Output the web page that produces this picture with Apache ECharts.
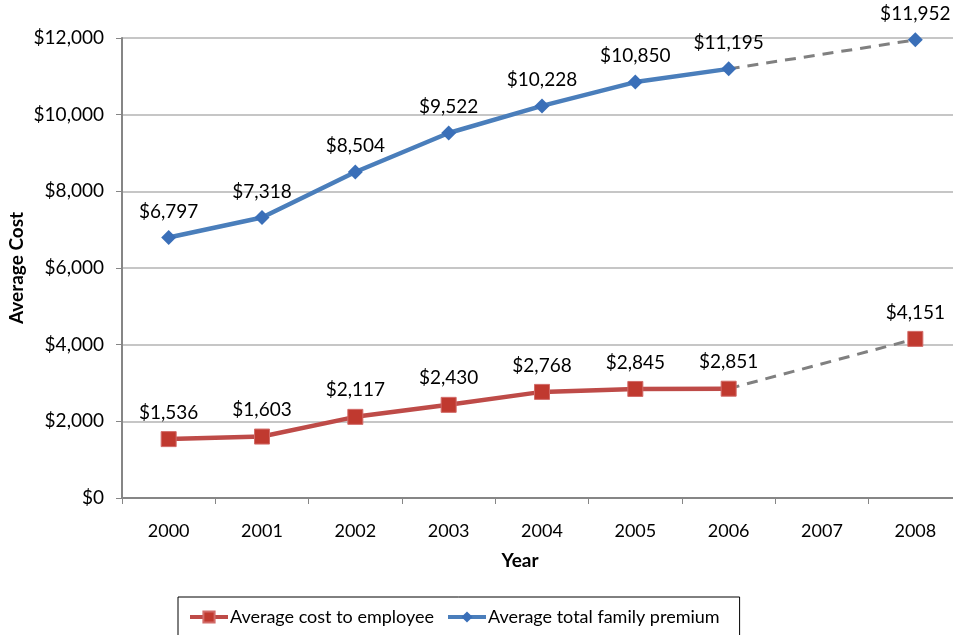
<!DOCTYPE html>
<html><head><meta charset="utf-8">
<script src="https://cdn.jsdelivr.net/npm/echarts@6/dist/echarts.min.js"></script>
<style>html,body{margin:0;padding:0;background:#fff}#c{width:953px;height:635px}</style>
</head><body><div id="c"></div>
<script>
const years = ['2000','2001','2002','2003','2004','2005','2006','2007','2008'];
const employeeCost = [1536, 1603, 2117, 2430, 2768, 2845, 2851, null, 4151];
const familyPremium = [6797, 7318, 8504, 9522, 10228, 10850, 11195, null, 11952];
const employeeProjection = [null, null, null, null, null, null, 2851, null, 4151];
const premiumProjection = [null, null, null, null, null, null, 11195, null, 11952];
const yTicks = [0, 2000, 4000, 6000, 8000, 10000, 12000];

const FONT = 'Lato';
const fmt = v => '$' + Number(v).toLocaleString('en-US');
const toData = a => a.map(v => v === null ? '-' : v);

const chart = echarts.init(document.getElementById('c'));
chart.setOption({
  animation: false,
  textStyle: {fontFamily: FONT},
  grid: {left: 122, top: 38, width: 840, height: 460, containLabel: false, outerBoundsMode: 'none'},
  graphic: [
    {type: 'text', x: 17, y: 268, rotation: Math.PI / 2,
     style: {text: 'Average Cost', fontFamily: FONT, fontSize: 19, fontWeight: 'bold', fill: '#000', align: 'center', verticalAlign: 'middle'}},
    {type: 'text', x: 520, y: 561,
     style: {text: 'Year', fontFamily: FONT, fontSize: 19, fontWeight: 'bold', fill: '#000', align: 'center', verticalAlign: 'middle'}}
  ],
  legend: {
    left: 178, top: 597,
    padding: [11, 20, 14, 10],
    borderColor: '#000', borderWidth: 1,
    itemGap: 12, itemWidth: 38, itemHeight: 14,
    lineStyle: {width: 4},
    textStyle: {fontFamily: FONT, fontSize: 18, color: '#000', padding: [0,0,0,-3]},
    data: ['Average cost to employee', 'Average total family premium']
  },
  xAxis: {
    type: 'category', data: years, boundaryGap: true,
    axisLine: {lineStyle: {color: '#868686', width: 2}},
    axisTick: {show: true, length: 6, lineStyle: {color: '#868686', width: 1}},
    axisLabel: {fontFamily: FONT, fontSize: 18, color: '#000', margin: 24}
  },
  yAxis: {
    type: 'value', min: yTicks[0], max: yTicks[yTicks.length-1], interval: 2000,
    axisLine: {show: true, lineStyle: {color: '#868686', width: 2}},
    axisTick: {show: true, length: 6, lineStyle: {color: '#868686', width: 1}},
    splitLine: {lineStyle: {color: '#b3b3b3', width: 1.5}},
    axisLabel: {fontFamily: FONT, fontSize: 19, color: '#000', margin: 18, formatter: fmt}
  },
  series: [
    {
      type: 'line', name: 'proj1', data: toData(employeeProjection), connectNulls: true,
      symbol: 'none', lineStyle: {color: '#808080', width: 3, type: [11, 8]}, z: 1, silent: true
    },
    {
      type: 'line', name: 'proj2', data: toData(premiumProjection), connectNulls: true,
      symbol: 'none', lineStyle: {color: '#808080', width: 3, type: [11, 8]}, z: 1, silent: true
    },
    {
      type: 'line', name: 'Average cost to employee', data: toData(employeeCost), connectNulls: false,
      symbol: 'rect', symbolSize: 15,
      itemStyle: {color: '#c0392f', borderColor: '#d26b68', borderWidth: 1},
      lineStyle: {color: '#be4b48', width: 4.5}, z: 3,
      label: {show: true, position: 'top', distance: 9, formatter: p => fmt(p.value), fontFamily: FONT, fontSize: 19, color: '#000'}
    },
    {
      type: 'line', name: 'Average total family premium', data: toData(familyPremium), connectNulls: false,
      symbol: 'diamond', symbolSize: [15, 15],
      itemStyle: {color: '#3a6fb8'},
      lineStyle: {color: '#4a7ebb', width: 4.5}, z: 3,
      label: {show: true, position: 'top', distance: 9, formatter: p => fmt(p.value), fontFamily: FONT, fontSize: 19, color: '#000'}
    }
  ]
});
</script></body></html>
